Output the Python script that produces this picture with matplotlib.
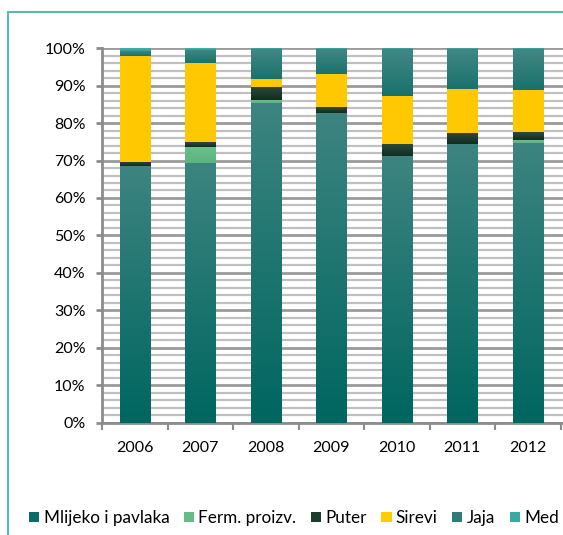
import numpy as np
import matplotlib
matplotlib.use("Agg")
import matplotlib.pyplot as plt
from matplotlib.patches import Patch, Rectangle
from matplotlib.colors import LinearSegmentedColormap
from matplotlib.ticker import MultipleLocator, FuncFormatter

plt.rcParams['font.family'] = ['Lato', 'DejaVu Sans']

years = ['2006', '2007', '2008', '2009', '2010', '2011', '2012']
series_names = ['Mlijeko i pavlaka', 'Ferm. proizv.', 'Puter', 'Sirevi', 'Jaja', 'Med']
mlijeko = [68.5, 69.3, 85.3, 82.8, 71.2, 74.4, 74.8]
ferm    = [0.0, 4.3, 0.9, 0.0, 0.0, 0.0, 0.7]
puter   = [1.2, 1.3, 3.5, 1.4, 3.2, 3.0, 2.1]
sirevi  = [28.3, 21.1, 2.0, 8.9, 12.9, 11.7, 11.3]
jaja    = [1.4, 3.5, 8.0, 6.6, 12.4, 10.6, 10.8]
med     = [0.6, 0.5, 0.3, 0.3, 0.3, 0.3, 0.3]

series = [mlijeko, ferm, puter, sirevi, jaja, med]
legend_colors = ['#0d6b67', '#66bb88', '#1d3d2c', '#ffcc00', '#2f7b77', '#3aa9a3']
grad = [('#006660', '#3d8480'), ('#5cb47e', '#6cc08e'), ('#112d1e', '#2e4a3e'),
        ('#ffc800', '#ffc800'), ('#1a716c', '#418884'), ('#32a098', '#45b0a8')]

W, H = 563, 535
FS = 11.5
fig = plt.figure(figsize=(W / 100, H / 100), dpi=100)
fig.patch.set_facecolor('white')

# chart frame (clipped by figure edges)
fig.patches.append(Rectangle((8 / W, -0.2), 1.2, 1 - 12 / H + 0.2, transform=fig.transFigure,
                             fill=False, edgecolor='#5cb8b0', lw=1.5, zorder=0))

ax = fig.add_axes([102 / W, 1 - 422.5 / H, 524 / W, (422.5 - 48.3) / H])
x = np.arange(len(years))
bottom = np.zeros(len(years))
for vals, c, (c0, c1) in zip(series, legend_colors, grad):
    bars = ax.bar(x, vals, width=0.46, bottom=bottom, color=c, zorder=3, linewidth=0)
    cmap = LinearSegmentedColormap.from_list('g', [c0, c1])
    for b in bars:
        if b.get_height() <= 0:
            continue
        gx, gy, gw, gh = b.get_x(), b.get_y(), b.get_width(), b.get_height()
        im = ax.imshow(np.linspace(0, 1, 100).reshape(-1, 1), cmap=cmap, origin='lower',
                       extent=(gx, gx + gw, gy, gy + gh), aspect='auto', zorder=3.5)
        im.set_clip_path(b)
    bottom += np.array(vals)

ax.set_xlim(-0.5, 7.5)
ax.set_ylim(0, 100)
ax.yaxis.set_major_locator(MultipleLocator(10))
ax.yaxis.set_minor_locator(MultipleLocator(2))
ax.yaxis.set_major_formatter(FuncFormatter(lambda v, p: f"{int(round(v))}%"))
ax.set_xticks(np.arange(-0.5, 8, 1.0))
ax.set_xticklabels([])
ax.set_xticks(x, minor=True)
ax.set_xticklabels(years, minor=True)
ax.grid(which='major', axis='y', color='#9a9a9a', lw=2, zorder=1)
ax.grid(which='minor', axis='y', color='#c0c0c0', lw=1.6, zorder=1)
for s in ['top', 'right']:
    ax.spines[s].set_visible(False)
for s in ['left', 'bottom']:
    ax.spines[s].set_color('#8c8c8c')
    ax.spines[s].set_linewidth(2)
ax.tick_params(axis='y', which='major', length=4, width=2, color='#8c8c8c', pad=8,
               labelsize=FS, labelcolor='black')
ax.tick_params(axis='y', which='minor', length=0)
ax.tick_params(axis='x', which='major', length=5, width=1.5, color='#8c8c8c')
ax.tick_params(axis='x', which='minor', length=0, pad=13, labelsize=FS, labelcolor='black')

handles = [Patch(facecolor=c, edgecolor='none') for c in legend_colors]
fig.legend(handles, series_names, ncol=6, loc='center left',
           bbox_to_anchor=(29 / W, 1 - 518 / H), frameon=False, fontsize=12.3,
           handlelength=0.6, handleheight=0.6, handletextpad=0.25, columnspacing=0.85,
           borderaxespad=0, borderpad=0)

fig.savefig('out.png', dpi=100)
